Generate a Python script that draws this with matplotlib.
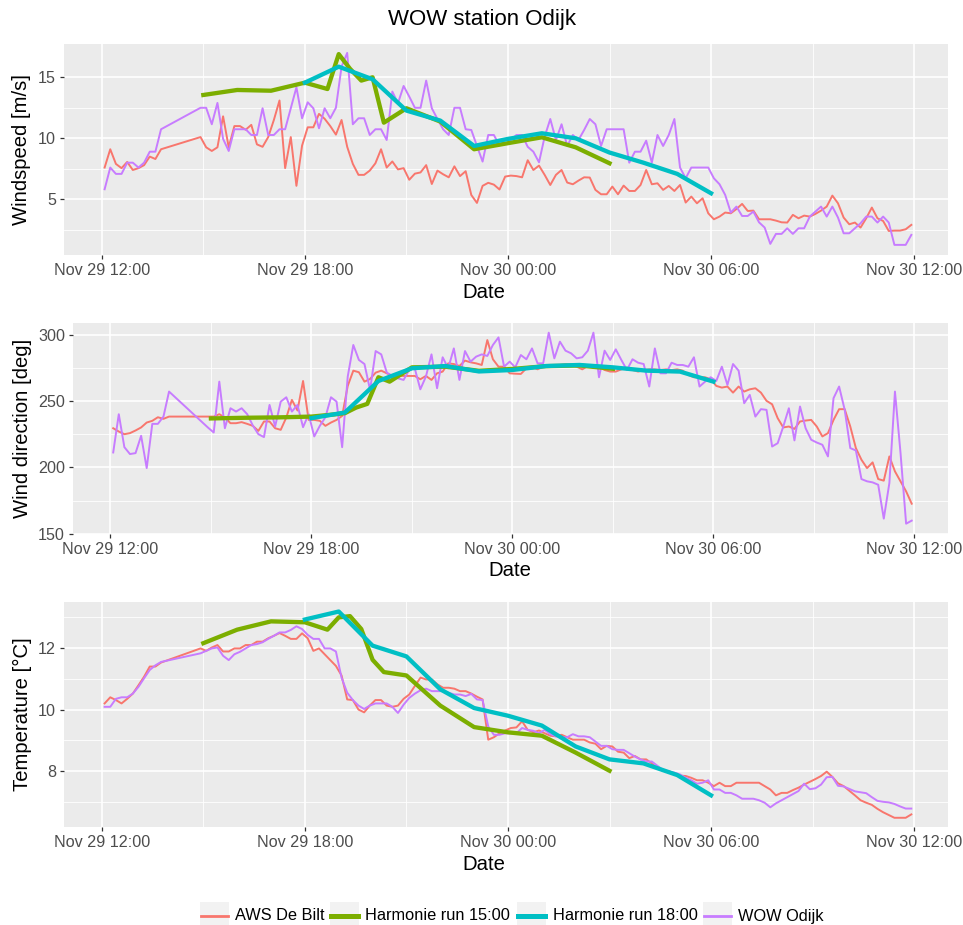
import matplotlib
matplotlib.use('Agg')
import matplotlib.pyplot as plt
import matplotlib.dates as mdates
from matplotlib.lines import Line2D
from matplotlib.patches import Rectangle
import pandas as pd

plt.rcParams['font.family'] = ['Liberation Sans', 'DejaVu Sans']

# 10-minute observations, with a gap in the early afternoon
obs_times = pd.date_range('2015-11-29 12:05', '2015-11-29 13:45', freq='10min').append(
    pd.date_range('2015-11-29 14:55', '2015-11-30 11:55', freq='10min'))

h15_times = pd.to_datetime([
    '2015-11-29 15:00', '2015-11-29 16:00', '2015-11-29 17:00', '2015-11-29 18:00',
    '2015-11-29 18:40', '2015-11-29 19:00', '2015-11-29 19:20', '2015-11-29 19:40',
    '2015-11-29 20:00', '2015-11-29 20:20', '2015-11-29 21:00', '2015-11-29 22:00',
    '2015-11-29 23:00', '2015-11-30 00:00', '2015-11-30 01:00', '2015-11-30 02:00',
    '2015-11-30 03:00'])
h18_times = pd.date_range('2015-11-29 18:00', '2015-11-30 06:00', freq='1h')

# windspeed [m/s]
ws_aws = [7.6, 9.1, 7.9, 7.55, 8.06, 7.4, 7.55, 7.8, 8.5, 8.3, 9.1,
          10.1, 9.26, 8.96, 9.26, 11.8, 9.26, 11.0, 11.0, 10.7, 11.1,
          9.5, 9.3, 10.1, 11.5, 13.1, 7.55, 10.1, 6.1, 9.4, 10.9,
          10.9, 12.0, 11.6, 11.0, 10.3, 11.5, 9.3, 7.9, 7.0, 7.0,
          7.35, 7.95, 9.1, 7.6, 8.1, 7.45, 7.55, 6.6, 7.1, 7.2,
          7.8, 6.25, 7.35, 7.05, 6.8, 7.7, 6.9, 7.3, 5.35, 4.7,
          6.1, 6.35, 6.2, 5.8,
          6.86, 6.94, 6.9, 6.8, 8.2, 7.4, 7.76, 7.0, 6.17, 7.0,
          7.4, 6.37, 6.23, 6.53, 6.8, 6.78, 5.77, 5.41, 5.41, 6.04,
          5.41, 6.12, 5.68, 5.68, 6.17, 7.4, 6.23, 6.31, 5.77, 6.09,
          5.68, 6.17, 4.73, 5.22, 4.67, 5.08, 3.85, 3.36, 3.58, 3.91,
          3.85, 4.2, 4.62, 4.04, 4.07, 3.36, 3.36, 3.36, 3.25, 3.11,
          3.09, 3.72, 3.44, 3.66, 3.58, 3.8, 4.07, 4.4, 5.3, 4.67,
          3.5, 2.95, 3.09, 2.68, 3.44, 4.32, 3.44, 3.22, 2.4, 2.43,
          2.43, 2.54, 2.9]
ws_wow = [5.82, 7.6, 7.08, 7.08, 8.0, 8.0, 7.6, 8.0, 8.9, 8.9, 10.74,
          12.5, 12.5, 11.15, 12.9, 9.95, 8.96, 10.74, 10.74, 10.74, 10.27,
          10.27, 12.46, 10.27, 10.27, 10.74, 10.74, 12.46, 14.18, 11.64, 12.95,
          12.46, 10.82, 12.46, 11.64, 12.5, 15.87, 17.0, 11.15, 11.64, 11.64,
          10.27, 10.74, 10.74, 9.86, 13.83, 12.87, 14.29, 13.42, 12.5, 12.5,
          14.73, 12.46, 11.58, 10.74, 10.27, 12.5, 12.5, 10.74, 10.68, 9.37,
          8.09, 10.27, 10.27, 9.4,
          9.86, 9.86, 10.27, 10.27, 9.3, 8.9, 8.03, 10.13, 11.58, 9.86,
          11.15, 9.37, 10.27, 9.86, 10.68, 11.58, 11.15, 9.37, 10.74, 10.74,
          10.74, 10.74, 8.0, 8.9, 8.9, 9.8, 8.0, 10.27, 9.37, 10.27,
          11.58, 7.6, 6.72, 7.6, 7.6, 7.6, 7.6, 6.72, 6.23, 5.36,
          3.91, 4.4, 3.63, 3.63, 3.99, 3.11, 2.68, 1.34, 2.16, 2.16,
          2.62, 2.16, 2.62, 2.62, 3.58, 3.99, 4.4, 3.58, 4.4, 3.5,
          2.21, 2.21, 2.62, 3.03, 3.58, 3.58, 3.09, 3.58, 3.09, 1.26,
          1.26, 1.26, 2.08]
ws_h15 = [13.55, 13.96, 13.9, 14.56, 14.04, 16.9, 15.7, 14.73, 15.0, 11.28,
          12.46, 11.37, 9.1, 9.6, 10.08, 9.26, 7.95]
ws_h18 = [14.56, 15.87, 14.84, 12.27, 11.45, 9.37, 9.95, 10.41, 10.0, 8.83,
          8.0, 7.08, 5.49]

# wind direction [deg]
wd_aws = [229.6, 227.1, 225.1, 225.9, 227.9, 230.2, 233.9, 235.2, 237.9, 236.7, 238.4,
          238.4,
          238.4, 240.2, 237.7, 233.4, 233.4, 234.2, 232.9, 231.4, 227.6, 234.7,
          234.7, 229.6, 228.4, 237.7, 251.0, 243.0, 265.3, 235.9, 235.9, 235.2,
          231.4, 233.9, 235.9, 238.9, 261.6, 273.1, 271.9, 264.8, 266.8, 271.6,
          273.1, 271.1, 269.1, 269.1, 269.1, 269.1, 269.1, 266.6, 269.1, 266.1,
          271.1, 272.4, 278.6, 278.1, 276.6, 280.7, 279.4, 278.6, 277.4, 296.2,
          281.7, 276.1, 276.1,
          271.1, 270.8, 270.6, 274.9, 276.1, 274.1, 276.1, 277.4, 277.4, 277.4,
          277.9, 277.4, 276.1, 274.1, 276.6, 275.6, 276.1, 273.6, 272.4, 272.4,
          274.1, 275.4, 273.6, 272.4, 273.6, 274.1, 274.1, 273.6, 274.1, 273.6,
          274.1, 273.1, 269.8, 268.1, 268.1, 268.1, 266.6, 261.6, 260.3, 261.1,
          256.5, 261.1, 257.3, 259.0, 259.8, 256.5, 250.3, 247.7, 237.2, 230.2,
          230.9, 229.1, 234.7, 235.4, 235.9, 230.9, 223.4, 225.9, 235.9, 244.0,
          244.0, 230.9, 214.6, 205.8, 199.5, 203.8, 191.2, 190.0, 208.3, 197.0,
          189.5, 181.9, 172.6]
wd_wow = [211.3, 240.2, 215.3, 210.1, 210.8, 223.9, 199.5, 232.9, 232.9, 238.4, 257.3,
          230.0,
          226.4, 264.8, 229.6, 244.7, 242.2, 244.7, 240.2, 231.7, 225.1, 222.9,
          247.2, 230.9, 249.7, 253.0, 242.2, 247.2, 230.4, 240.2, 223.4, 231.4,
          237.9, 253.0, 249.7, 215.3, 268.6, 292.5, 281.2, 278.1, 258.5, 287.9,
          285.4, 271.6, 269.1, 267.3, 266.1, 273.6, 274.9, 259.0, 268.6, 285.4,
          259.8, 283.2, 274.9, 289.9, 266.1, 287.9, 279.9, 283.7, 285.4, 284.2,
          292.5, 298.2, 276.1,
          279.9, 275.6, 284.9, 281.7, 289.9, 278.6, 278.6, 301.8, 282.4, 295.0,
          288.2, 286.2, 282.4, 283.2, 288.2, 301.8, 268.1, 288.2, 281.2, 289.2,
          281.2, 273.6, 281.7, 279.1, 278.1, 261.1, 289.9, 271.1, 271.1, 279.1,
          277.4, 277.4, 276.1, 283.2, 261.1, 264.8, 268.1, 265.3, 276.1, 262.3,
          278.1, 273.1, 248.5, 254.8, 238.4, 244.0, 243.5, 215.8, 218.3, 230.9,
          244.7, 220.4, 246.0, 229.6, 220.9, 218.8, 217.1, 208.3, 252.3, 261.1,
          243.5, 214.6, 212.8, 191.2, 189.5, 188.7, 186.9, 161.3, 188.2, 257.3,
          210.8, 157.5, 159.8]
wd_h15 = [237.0, 237.5, 237.8, 238.4, 240.0, 241.0, 245.2, 248.0, 268.1, 264.8,
          275.6, 276.1, 273.0, 274.4, 276.5, 277.0, 274.5]
wd_h18 = [237.2, 241.5, 265.3, 274.9, 276.6, 272.5, 273.6, 276.6, 277.4, 275.6,
          273.1, 272.4, 264.8]

# temperature [deg C]
t_aws = [10.2, 10.4, 10.31, 10.2, 10.35, 10.52, 10.79, 11.07, 11.4, 11.4, 11.53,
         11.99, 11.91, 12.02, 12.1, 11.89, 11.89, 11.99, 11.99, 12.1, 12.1,
         12.21, 12.21, 12.32, 12.4, 12.49, 12.4, 12.3, 12.3, 12.48, 12.32,
         11.91, 11.99, 11.8, 11.61, 11.42, 11.11, 10.33, 10.31, 10.0, 9.91,
         10.13, 10.31, 10.31, 10.13, 10.09, 10.13, 10.35, 10.49, 10.77, 11.04,
         10.98, 10.98, 10.82, 10.71, 10.71, 10.68, 10.6, 10.6, 10.52, 10.42,
         10.33, 9.02, 9.1,
         9.23, 9.32, 9.4, 9.42, 9.62, 9.34, 9.26, 9.32, 9.23, 9.15,
         9.13, 9.18, 9.1, 9.02, 9.02, 9.02, 8.93, 8.89, 8.71, 8.82,
         8.8, 8.63, 8.6, 8.42, 8.49, 8.38, 8.38, 8.25, 8.09, 8.01,
         8.0, 7.92, 7.85, 7.84, 7.78, 7.7, 7.7, 7.62, 7.51, 7.62,
         7.51, 7.51, 7.62, 7.62, 7.62, 7.62, 7.62, 7.51, 7.4, 7.21,
         7.29, 7.29, 7.38, 7.46, 7.56, 7.65, 7.74, 7.84, 7.98, 7.81,
         7.6, 7.51, 7.36, 7.21, 7.05,
         6.97, 6.9, 6.77, 6.66, 6.57, 6.48, 6.48, 6.48, 6.59]
t_wow = [10.09, 10.09, 10.35, 10.4, 10.4, 10.52, 10.74, 11.02, 11.29, 11.44, 11.55,
         11.83, 11.91, 11.99, 12.02, 11.75, 11.61, 11.8, 11.88, 11.99, 12.1,
         12.13, 12.19, 12.3, 12.4, 12.51, 12.51, 12.59, 12.71, 12.62, 12.43,
         12.3, 12.3, 11.99, 11.99, 11.89, 11.04, 10.55, 10.31, 10.13, 10.02,
         10.13, 10.2, 10.2, 10.2, 10.09, 9.89, 10.16, 10.38, 10.52, 10.63,
         10.68, 10.6, 10.6, 10.6, 10.55, 10.49, 10.49, 10.44, 10.51, 10.33,
         10.31, 9.45, 9.18,
         9.18, 9.23, 9.23, 9.23, 9.4, 9.34, 9.31, 9.23, 9.34, 9.2,
         9.13, 9.1, 9.1, 9.2, 9.13, 9.13, 9.1, 8.96, 8.82, 8.82,
         8.71, 8.69, 8.69, 8.58, 8.47, 8.38, 8.31, 8.31, 8.17, 8.03,
         7.98, 7.95, 7.89, 7.78, 7.7, 7.59, 7.62, 7.7, 7.4, 7.4,
         7.29, 7.29, 7.21, 7.1, 7.1, 7.1,
         7.05, 6.97, 6.82, 6.95, 7.05, 7.15, 7.25, 7.35, 7.59, 7.41,
         7.44, 7.56, 7.8, 7.81, 7.52, 7.5, 7.42, 7.34, 7.31, 7.28,
         7.15, 7.03, 7.0, 6.98, 6.93, 6.85, 6.78, 6.78]
t_h15 = [12.16, 12.6, 12.87, 12.84, 12.6, 13.0, 13.04, 12.62, 11.62, 11.22,
         11.11, 10.13, 9.43, 9.26, 9.15, 8.6, 8.01]
t_h18 = [12.93, 13.19, 12.08, 11.73, 10.66, 10.05, 9.8, 9.48, 8.8, 8.38,
         8.25, 7.87, 7.21]

for series in (ws_aws, ws_wow, wd_aws, wd_wow, t_aws, t_wow):
    assert len(series) == len(obs_times), len(series)

labels = ['AWS De Bilt', 'Harmonie run 15:00', 'Harmonie run 18:00', 'WOW Odijk']
colors = ['#F8766D', '#7CAE00', '#00BFC4', '#C77CFF']
widths = [1.4, 3.1, 3.1, 1.4]
key_widths = [2.0, 3.6, 3.6, 2.0]

W, H = 963, 925
fig = plt.figure(figsize=(W / 100, H / 100), dpi=100)


def px_rect(left, top, right, bottom):
    return [left / W, 1 - bottom / H, (right - left) / W, (bottom - top) / H]


panels = [
    dict(rect=(64, 44, 948, 255), ylabel='Windspeed [m/s]', ylim=(0.43, 17.73),
         major=[5, 10, 15], minor=[2.5, 7.5, 12.5], date_x=484,
         data=(ws_aws, ws_h15, ws_h18, ws_wow)),
    dict(rect=(73, 323, 948, 534), ylabel='Wind direction [deg]', ylim=(149.7, 309.1),
         major=[150, 200, 250, 300], minor=[175, 225, 275], date_x=510,
         data=(wd_aws, wd_h15, wd_h18, wd_wow)),
    dict(rect=(64, 602, 948, 827), ylabel='Temperature [°C]', ylim=(6.18, 13.5),
         major=[8, 10, 12], minor=[7, 9, 11, 13], date_x=484,
         data=(t_aws, t_h15, t_h18, t_wow)),
]

xmin = pd.Timestamp('2015-11-29 10:53')
xmax = pd.Timestamp('2015-11-30 13:00')

for p in panels:
    left, top, right, bottom = p['rect']
    ax = fig.add_axes(px_rect(left, top, right, bottom))
    ax.set_facecolor('#EBEBEB')
    for s in ax.spines.values():
        s.set_visible(False)

    aws, h15, h18, wow = p['data']
    ax.plot(obs_times, aws, color=colors[0], lw=widths[0], solid_joinstyle='round')
    ax.plot(obs_times, wow, color=colors[3], lw=widths[3], solid_joinstyle='round')
    ax.plot(h15_times, h15, color=colors[1], lw=widths[1], solid_joinstyle='round')
    ax.plot(h18_times, h18, color=colors[2], lw=widths[2], solid_joinstyle='round')

    ax.set_xlim(xmin, xmax)
    ax.set_ylim(*p['ylim'])
    ax.xaxis.set_major_locator(mdates.HourLocator(byhour=[0, 6, 12, 18]))
    ax.xaxis.set_minor_locator(mdates.HourLocator(byhour=[3, 9, 15, 21]))
    ax.xaxis.set_major_formatter(mdates.DateFormatter('%b %d %H:%M'))
    ax.set_yticks(p['major'])
    ax.set_yticks(p['minor'], minor=True)

    ax.set_axisbelow(True)
    ax.grid(which='major', color='white', lw=1.2)
    ax.grid(which='minor', color='white', lw=0.6)
    ax.tick_params(which='major', length=3.2, width=0.9, color='#333333',
                   labelcolor='#4D4D4D', labelsize=11.6, pad=2.6)
    ax.tick_params(which='minor', length=0)

    w, h = right - left, bottom - top
    ax.set_xlabel('Date', fontsize=14.6, va='center')
    ax.xaxis.set_label_coords((p['date_x'] - left) / w, -37 / h)
    ax.set_ylabel(p['ylabel'], fontsize=14.6, va='center')
    ax.yaxis.set_label_coords((22 - left) / w, 0.5)

fig.text(481.5 / W, 1 - 20 / H, 'WOW station Odijk', ha='center', va='center', fontsize=16)

# legend along the bottom
key_left = [200, 330, 517, 703]
text_left = [235, 365, 552.5, 738]
key_size = 29
yc = 916
for kx, tx, lab, col, lw in zip(key_left, text_left, labels, colors, key_widths):
    fig.add_artist(Rectangle((kx / W, 1 - (yc + key_size / 2) / H), key_size / W, key_size / H,
                             transform=fig.transFigure, facecolor='#F2F2F2', edgecolor='none'))
    fig.add_artist(Line2D([(kx + 1) / W, (kx + key_size - 1) / W], [1 - yc / H, 1 - yc / H],
                          transform=fig.transFigure, color=col, lw=lw))
    fig.text(tx / W, 1 - yc / H, lab, ha='left', va='center', fontsize=11.8)

fig.savefig('out.png', dpi=100)
